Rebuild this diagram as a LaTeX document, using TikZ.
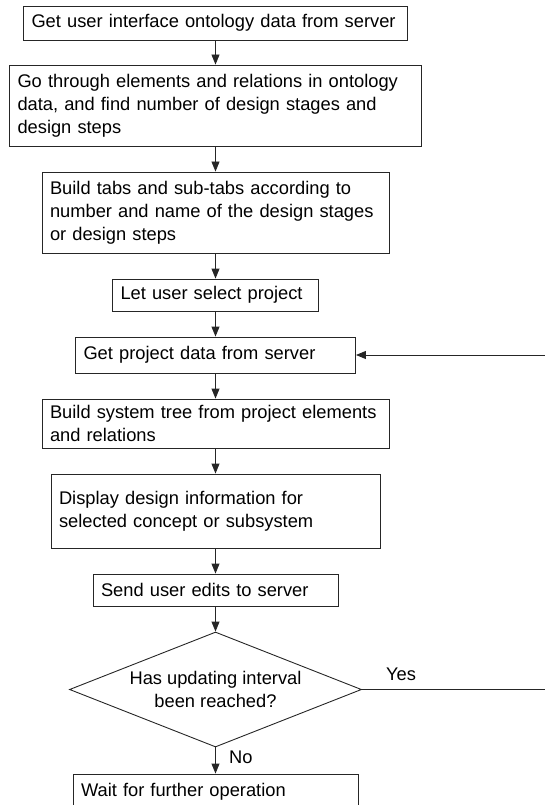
\documentclass[tikz,border=0pt]{standalone}
\usepackage{fontspec}
\setmainfont{Liberation Sans}
\usetikzlibrary{arrows.meta,positioning,shapes.geometric}
\hyphenpenalty=10000
\tikzset{
  stepbox/.style={draw=black!85,line width=0.9pt,align=left,inner xsep=8pt,inner ysep=0pt,
    font=\fontsize{18.3}{23}\selectfont},
  decision/.style={draw=black!85,line width=0.9pt,diamond,shape aspect=2.54,inner sep=0pt,
    align=center,minimum width=292pt,minimum height=115pt,font=\fontsize{18.3}{23}\selectfont},
  flow/.style={-{Triangle[length=10pt,width=8pt]},line width=0.9pt,draw=black!85},
  branchlabel/.style={font=\fontsize{18.3}{23}\selectfont,inner sep=0pt}
}
\begin{document}
\begin{tikzpicture}[x=1pt,y=-1pt]
  \useasboundingbox (0,0) rectangle (544,805);
  \node[stepbox,text width=368pt,minimum height=34pt] (getui) at (215.5,23) {Get user interface ontology data from server};
  \node[stepbox,text width=396pt,minimum height=81pt] (traverse) at (215.5,105.5) {Go through elements and relations in ontology\\data, and find number of design stages and\\design steps};
  \node[stepbox,text width=331pt,minimum height=81pt] (buildtabs) at (215.5,212.5) {Build tabs and sub-tabs according to\\number and name of the design stages\\or design steps};
  \node[stepbox,text width=190pt,minimum height=32pt] (selproj) at (215.5,295) {Let user select project};
  \node[stepbox,text width=264pt,minimum height=36pt] (getproj) at (215.5,355) {Get project data from server};
  \node[stepbox,text width=331pt,minimum height=49pt] (buildtree) at (215.5,423.5) {Build system tree from project elements\\and relations};
  \node[stepbox,text width=313pt,minimum height=74pt] (display) at (215.5,511) {Display design information for\\selected concept or subsystem};
  \node[stepbox,text width=229pt,minimum height=32pt] (sendedits) at (215.5,590) {Send user edits to server};
  \node[decision] (interval) at (215.5,689.5) {Has updating interval\\been reached?};
  \node[stepbox,text width=269pt,minimum height=36pt] (wait) at (215.5,792) {Wait for further operation};
  \coordinate (loopback) at (550,689.5);

  \draw[flow] (getui) -- (traverse);
  \draw[flow] (traverse) -- (buildtabs);
  \draw[flow] (buildtabs) -- (selproj);
  \draw[flow] (selproj) -- (getproj);
  \draw[flow] (getproj) -- (buildtree);
  \draw[flow] (buildtree) -- (display);
  \draw[flow] (display) -- (sendedits);
  \draw[flow] (sendedits) -- (interval);
  \draw[flow] (interval) -- (wait);
  \draw[flow] (interval.east) -- (loopback) |- (getproj.east);
  \node[branchlabel,anchor=west] (yeslabel) at (386,674) {Yes};
  \node[branchlabel,anchor=west] (nolabel) at (229,757) {No};
\end{tikzpicture}
\end{document}
